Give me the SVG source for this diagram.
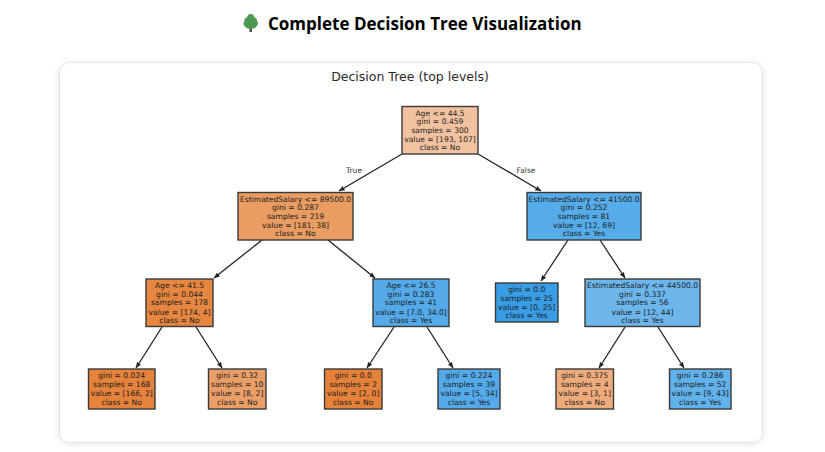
<svg xmlns="http://www.w3.org/2000/svg" width="825" height="452" viewBox="0 0 825 452">
<style>
text{font-family:"DejaVu Sans",sans-serif;fill:#1c1c1c}
.n rect{stroke:#3a3a3a;stroke-width:1.4}
.n text,.e{font-size:7.6px;text-anchor:middle}
.e{fill:#333}
.c line{stroke:#222;stroke-width:1.3;marker-end:url(#a)}
</style>
<defs>
<marker id="a" viewBox="0 0 8 8" refX="7.5" refY="4" markerWidth="6" markerHeight="6" markerUnits="userSpaceOnUse" orient="auto"><path d="M0 0.8L8 4L0 7.2z" fill="#222"/></marker>
<filter id="s" x="-5%" y="-5%" width="110%" height="110%"><feDropShadow dx="0" dy="1" stdDeviation="3" flood-color="#000" flood-opacity=".1"/></filter>
</defs>
<rect width="825" height="452" fill="#fff"/>
<g id="heading">
<g transform="translate(-1.500 0)">
<path d="M251 27.5L251 32L253.4 32L253.4 27.5z" fill="#5d4037"/>
<path d="M252.200 14C254.500 14 255.500 15.800 255.800 17.300C257.500 17.800 258.700 19.500 258.400 21C259.800 22 259.800 24.800 258.200 26C257 28.500 254 29 252.200 28.500C250.400 29 247.400 28.500 246.200 26C244.600 24.800 244.600 22 246 21C245.700 19.500 246.900 17.800 248.600 17.300C248.900 15.800 249.900 14 252.200 14z" fill="#4c9a4f"/>
</g>
<text x="268" y="30" font-size="17" font-weight="700" style="font-family:'Open Sans',sans-serif;fill:#000">Complete Decision Tree Visualization</text>
</g>
<rect id="card" x="59.500" y="62.500" width="703" height="380" rx="10" fill="#fff" stroke="#e2e2e2" filter="url(#s)"/>
<text x="410" y="81" font-size="12.500" text-anchor="middle" style="fill:#2a2a2a">Decision Tree (top levels)</text>
<g id="connectors" class="c">
<line x1="402" y1="154" x2="339" y2="191"/>
<line x1="478" y1="154" x2="541" y2="191"/>
<line x1="262" y1="240" x2="214" y2="278"/>
<line x1="328" y1="240" x2="375" y2="278"/>
<line x1="568" y1="240" x2="541" y2="281"/>
<line x1="600" y1="240" x2="625" y2="278"/>
<line x1="162" y1="327" x2="136" y2="368"/>
<line x1="196" y1="327" x2="222" y2="368"/>
<line x1="394" y1="327" x2="367" y2="368"/>
<line x1="427" y1="327" x2="453" y2="368"/>
<line x1="625" y1="327" x2="599" y2="368"/>
<line x1="658" y1="327" x2="684" y2="368"/>
<text class="e" x="354" y="173">True</text>
<text class="e" x="526" y="173">False</text>
</g>
<g id="n0" class="n"><rect x="402" y="106.500" width="76" height="47.500" fill="#f2c2a0"/><text x="440" y="115.500">Age &lt;= 44.5</text><text x="440" y="124">gini = 0.459</text><text x="440" y="132.500">samples = 300</text><text x="440" y="142">value = [193, 107]</text><text x="440" y="150">class = No</text></g>
<g id="n1" class="n"><rect x="238" y="192.500" width="115" height="47.500" fill="#e99d62"/><text x="295.500" y="201.500">EstimatedSalary &lt;= 89500.0</text><text x="295.500" y="210">gini = 0.287</text><text x="295.500" y="218.500">samples = 219</text><text x="295.500" y="228">value = [181, 38]</text><text x="295.500" y="236">class = No</text></g>
<g id="n2" class="n"><rect x="527" y="192.500" width="114" height="47.500" fill="#56ace9"/><text x="584" y="201.500">EstimatedSalary &lt;= 41500.0</text><text x="584" y="210">gini = 0.252</text><text x="584" y="218.500">samples = 81</text><text x="584" y="228">value = [12, 69]</text><text x="584" y="236">class = Yes</text></g>
<g id="n3" class="n"><rect x="146" y="279" width="67" height="47.500" fill="#e68640"/><text x="179.500" y="288">Age &lt;= 41.5</text><text x="179.500" y="296.500">gini = 0.044</text><text x="179.500" y="305">samples = 178</text><text x="179.500" y="314.500">value = [174, 4]</text><text x="179.500" y="322.500">class = No</text></g>
<g id="n4" class="n"><rect x="373" y="279" width="76" height="47.500" fill="#54aae9"/><text x="411" y="288">Age &lt;= 26.5</text><text x="411" y="296.500">gini = 0.283</text><text x="411" y="305">samples = 41</text><text x="411" y="314.500">value = [7.0, 34.0]</text><text x="411" y="322.500">class = Yes</text></g>
<g id="n5" class="n"><rect x="495.500" y="283" width="62.500" height="39" fill="#399de5"/><text x="526.700" y="292">gini = 0.0</text><text x="526.700" y="300.500">samples = 25</text><text x="526.700" y="309.500">value = [0, 25]</text><text x="526.700" y="318">class = Yes</text></g>
<g id="n6" class="n"><rect x="585" y="279" width="115" height="47.500" fill="#6cb6ec"/><text x="642.500" y="288">EstimatedSalary &lt;= 44500.0</text><text x="642.500" y="296.500">gini = 0.337</text><text x="642.500" y="305">samples = 56</text><text x="642.500" y="314.500">value = [12, 44]</text><text x="642.500" y="322.500">class = Yes</text></g>
<g id="n7" class="n"><rect x="88.500" y="369" width="66.500" height="40" fill="#e5823b"/><text x="121.700" y="378">gini = 0.024</text><text x="121.700" y="387">samples = 168</text><text x="121.700" y="396">value = [166, 2]</text><text x="121.700" y="404.500">class = No</text></g>
<g id="n8" class="n"><rect x="208.500" y="369" width="57.500" height="40" fill="#eb9f68"/><text x="237.200" y="378">gini = 0.32</text><text x="237.200" y="387">samples = 10</text><text x="237.200" y="396">value = [8, 2]</text><text x="237.200" y="404.500">class = No</text></g>
<g id="n9" class="n"><rect x="324.500" y="369" width="57.500" height="40" fill="#e58139"/><text x="353.200" y="378">gini = 0.0</text><text x="353.200" y="387">samples = 2</text><text x="353.200" y="396">value = [2, 0]</text><text x="353.200" y="404.500">class = No</text></g>
<g id="n10" class="n"><rect x="438" y="369" width="62" height="40" fill="#54aae9"/><text x="469" y="378">gini = 0.224</text><text x="469" y="387">samples = 39</text><text x="469" y="396">value = [5, 34]</text><text x="469" y="404.500">class = Yes</text></g>
<g id="n11" class="n"><rect x="556" y="369" width="57.500" height="40" fill="#eeab7b"/><text x="584.700" y="378">gini = 0.375</text><text x="584.700" y="387">samples = 4</text><text x="584.700" y="396">value = [3, 1]</text><text x="584.700" y="404.500">class = No</text></g>
<g id="n12" class="n"><rect x="669.500" y="369" width="61.500" height="40" fill="#61b1ea"/><text x="700.200" y="378">gini = 0.286</text><text x="700.200" y="387">samples = 52</text><text x="700.200" y="396">value = [9, 43]</text><text x="700.200" y="404.500">class = Yes</text></g>
</svg>
